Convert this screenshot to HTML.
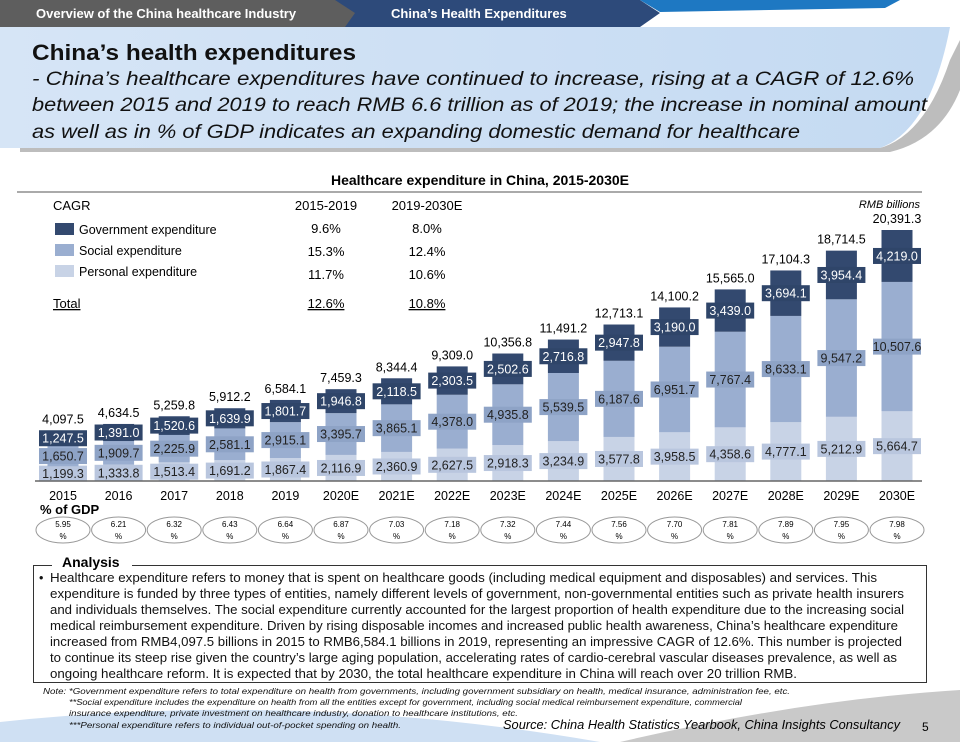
<!DOCTYPE html>
<html><head><meta charset="utf-8"><style>
body{margin:0;width:960px;height:742px;overflow:hidden;background:#fff;font-family:"Liberation Sans",Arial,sans-serif;position:relative}
.abs{position:absolute}
</style></head><body>
<svg class="abs" style="left:0;top:0" width="960" height="742">
 <defs><linearGradient id="lb" x1="0" x2="1"><stop offset="0" stop-color="#d6e5f6"/><stop offset="1" stop-color="#c4daf2"/></linearGradient></defs>
 <path d="M0 27 H950 Q930 130 880 148 H0 Z" fill="url(#lb)"/>
 <path d="M20 148 H880 Q925 135 950 60 L960 40 V90 Q940 140 890 152 H20 Z" fill="#bdbdbd"/>
 <rect x="0" y="0" width="360" height="27" fill="#5e5e5e"/>
 <polygon points="335,0 640,0 660,13 640,27 345,27 355,13" fill="#2d4a7a"/>
 <polygon points="640,0 900,0 885,8 660,12" fill="#1e78c2"/>
 <path d="M0 742 V722 Q300 690 600 742 Z" fill="#cfe0f3"/>
 <path d="M620 742 Q800 700 960 690 V742 Z" fill="#c9c9c9"/>
</svg>
<div class="abs" style="left:36px;top:6px;color:#fff;font-size:13px;font-weight:bold">Overview of the China healthcare Industry</div>
<div class="abs" style="left:391px;top:6px;color:#fff;font-size:13px;font-weight:bold">China’s Health Expenditures</div>

<svg class="abs" style="left:0;top:0" width="960" height="742" font-family="Liberation Sans, Arial, sans-serif">
 <text x="32" y="60" font-size="22" font-weight="bold" fill="#111" textLength="324" lengthAdjust="spacingAndGlyphs">China’s health expenditures</text>
 <g font-size="19.5" font-style="italic" fill="#111">
  <text x="32" y="85" textLength="882" lengthAdjust="spacingAndGlyphs">- China’s healthcare expenditures have continued to increase, rising at a CAGR of 12.6%</text>
  <text x="32" y="111" textLength="895" lengthAdjust="spacingAndGlyphs">between 2015 and 2019 to reach RMB 6.6 trillion as of 2019; the increase in nominal amount</text>
  <text x="32" y="138" textLength="768" lengthAdjust="spacingAndGlyphs">as well as in % of GDP indicates an expanding domestic demand for healthcare</text>
 </g>
 <rect x="33.5" y="565.5" width="893" height="117" fill="none" stroke="#333" stroke-width="1"/>
 <rect x="52" y="555" width="80" height="14" fill="#fff"/>
 <text x="62" y="567" font-size="14" font-weight="bold">Analysis</text>
 <g font-size="12.6" fill="#111">
  <text x="39" y="582">•</text>
  <text x="50" y="582" textLength="827" lengthAdjust="spacingAndGlyphs">Healthcare expenditure refers to money that is spent on healthcare goods (including medical equipment and disposables) and services. This</text>
  <text x="50" y="598" textLength="854" lengthAdjust="spacingAndGlyphs">expenditure is funded by three types of entities, namely different levels of government, non-governmental entities such as private health insurers</text>
  <text x="50" y="614" textLength="854" lengthAdjust="spacingAndGlyphs">and individuals themselves. The social expenditure currently accounted for the largest proportion of health expenditure due to the increasing social</text>
  <text x="50" y="630" textLength="848" lengthAdjust="spacingAndGlyphs">medical reimbursement expenditure. Driven by rising disposable incomes and increased public health awareness, China’s healthcare expenditure</text>
  <text x="50" y="646" textLength="852" lengthAdjust="spacingAndGlyphs">increased from RMB4,097.5 billions in 2015 to RMB6,584.1 billions in 2019, representing an impressive CAGR of 12.6%. This number is projected</text>
  <text x="50" y="662" textLength="847" lengthAdjust="spacingAndGlyphs">to continue its steep rise given the country’s large aging population, accelerating rates of cardio-cerebral vascular diseases prevalence, as well as</text>
  <text x="50" y="678" textLength="747" lengthAdjust="spacingAndGlyphs">ongoing healthcare reform. It is expected that by 2030, the total healthcare expenditure in China will reach over 20 trillion RMB.</text>
 </g>
 <g font-size="8.3" font-style="italic" fill="#111">
  <text x="43" y="694" textLength="747" lengthAdjust="spacingAndGlyphs">Note: *Government expenditure refers to total expenditure on health from governments, including government subsidiary on health, medical insurance, administration fee, etc.</text>
  <text x="69" y="705" textLength="673" lengthAdjust="spacingAndGlyphs">**Social expenditure includes the expenditure on health from all the entities except for government, including social medical reimbursement expenditure, commercial</text>
  <text x="69" y="716" textLength="449" lengthAdjust="spacingAndGlyphs">insurance expenditure, private investment on healthcare industry, donation to healthcare institutions, etc.</text>
  <text x="69" y="728" textLength="332" lengthAdjust="spacingAndGlyphs">***Personal expenditure refers to individual out-of-pocket spending on health.</text>
 </g>
 <text x="503" y="729" font-size="13" font-style="italic" textLength="397" lengthAdjust="spacingAndGlyphs">Source: China Health Statistics Yearbook, China Insights Consultancy</text>
 <text x="922" y="731" font-size="12">5</text>
</svg>

<svg id="chart" class="abs" style="left:0;top:160px" width="960" height="400"></svg>

<script>
const years=["2015","2016","2017","2018","2019","2020E","2021E","2022E","2023E","2024E","2025E","2026E","2027E","2028E","2029E","2030E"];
const personal=[1199.3,1333.8,1513.4,1691.2,1867.4,2116.9,2360.9,2627.5,2918.3,3234.9,3577.8,3958.5,4358.6,4777.1,5212.9,5664.7];
const social=[1650.7,1909.7,2225.9,2581.1,2915.1,3395.7,3865.1,4378.0,4935.8,5539.5,6187.6,6951.7,7767.4,8633.1,9547.2,10507.6];
const gov=[1247.5,1391.0,1520.6,1639.9,1801.7,1946.8,2118.5,2303.5,2502.6,2716.8,2947.8,3190.0,3439.0,3694.1,3954.4,4219.0];
const totals=[4097.5,4634.5,5259.8,5912.2,6584.1,7459.3,8344.4,9309.0,10356.8,11491.2,12713.1,14100.2,15565.0,17104.3,18714.5,20391.3];
const gdp=["5.95","6.21","6.32","6.43","6.64","6.87","7.03","7.18","7.32","7.44","7.56","7.70","7.81","7.89","7.95","7.98"];
const legendNames=["Government expenditure","Social expenditure","Personal expenditure"];
const cagr1=["9.6%","15.3%","11.7%"],cagr2=["8.0%","12.4%","10.6%"];
const totalCagr=["12.6%","10.8%"];

const svg=document.getElementById('chart');const NS="http://www.w3.org/2000/svg";
function mk(t,a,txt){const e=document.createElementNS(NS,t);for(const k in a)e.setAttribute(k,a[k]);if(txt!==undefined)e.textContent=txt;svg.appendChild(e);return e;}
const C={g:"#33496f",s:"#9aaed0",p:"#c8d3e6",gl:"#2f4569",sl:"#8ea3c6",pl:"#b9c6de"};
const base=321,k=251/20391.3,x0=63,step=55.6,bw=31;
const X=i=>x0+i*step, Y=v=>base-v*k;
const fmt=v=>v.toLocaleString('en-US',{minimumFractionDigits:1,maximumFractionDigits:1});

let e=mk('text',{x:480,y:25,'text-anchor':'middle','font-size':14,'font-weight':'bold'},'Healthcare expenditure in China, 2015-2030E');

e=mk('line',{x1:17,y1:32,x2:922,y2:32,stroke:'#aaa','stroke-width':2});

e=mk('text',{x:920,y:48,'text-anchor':'end','font-size':11,'font-style':'italic'},'RMB billions');

e=mk('text',{x:53,y:50,'font-size':13},'CAGR');
e=mk('text',{x:326,y:50,'font-size':13,'text-anchor':'middle'},'2015-2019');
e=mk('text',{x:427,y:50,'font-size':13,'text-anchor':'middle'},'2019-2030E');
const lc=[C.g,C.s,C.p];
legendNames.forEach((n,i)=>{
 const y=63+i*21;
 let r=mk('rect',{x:55,y:y,width:19,height:12,fill:lc[i]});
 let t=mk('text',{x:79,y:y+11,'font-size':12.5},n);
 let a=mk('text',{x:326,y:y+10+i*2,'font-size':13,'text-anchor':'middle'},cagr1[i]);
 let b=mk('text',{x:427,y:y+10+i*2,'font-size':13,'text-anchor':'middle'},cagr2[i]);
});
e=mk('text',{x:53,y:148,'font-size':13,'text-decoration':'underline'},'Total');
totalCagr.forEach((v,i)=>{let t=mk('text',{x:i?427:326,y:148,'font-size':13,'text-anchor':'middle','text-decoration':'underline'},v);});
years.forEach((yr,i)=>{
 const x=X(i);
 const segs=[[0,personal[i],C.p,C.pl,'#222','personal'],[personal[i],social[i],C.s,C.sl,'#222','social'],[personal[i]+social[i],gov[i],C.g,C.gl,'#fff','gov']];
 segs.forEach(s=>{
  const y1=Y(s[0]+s[1]),y0=Y(s[0]);
  let r=mk('rect',{x:x-bw/2,y:y1,width:bw,height:y0-y1,fill:s[2]});
  
  const cy=(y0+y1)/2;
  let bx=mk('rect',{x:x-24,y:cy-8,width:48,height:16,fill:s[3]});
  
  let t=mk('text',{x:x,y:cy+4.5,'font-size':12.5,'text-anchor':'middle',fill:s[4]},fmt(s[1]));
  
 });
 let t=mk('text',{x:x,y:Y(totals[i])-7,'font-size':12.5,'text-anchor':'middle'},fmt(totals[i]));
 
 let yl=mk('text',{x:x,y:base+19,'font-size':12.5,'text-anchor':'middle'},yr);
 
 let el=mk('ellipse',{cx:x,cy:370,rx:27,ry:13,fill:'#fff',stroke:'#999','stroke-width':1});
 
 let g1=mk('text',{x:x,y:367,'font-size':8,'text-anchor':'middle'},gdp[i]);
 
 let g2=mk('text',{x:x,y:379,'font-size':8,'text-anchor':'middle'},'%');
 
});
e=mk('line',{x1:35,y1:base,x2:922,y2:base,stroke:'#666','stroke-width':1.5});

e=mk('text',{x:40,y:354,'font-size':13,'font-weight':'bold'},'% of GDP');

</script>
</body></html>
